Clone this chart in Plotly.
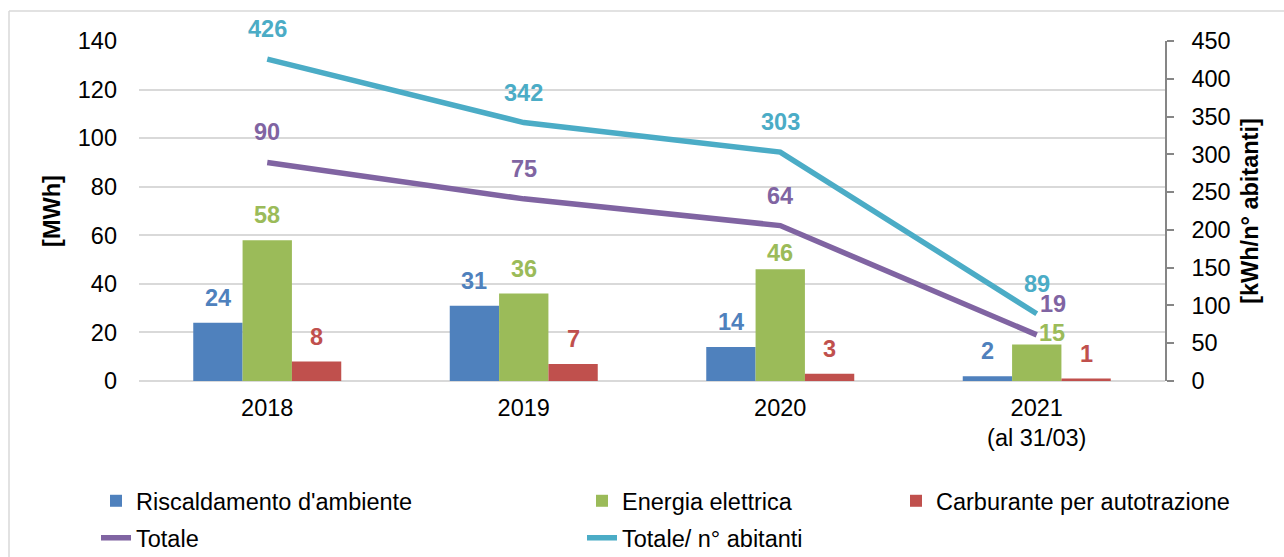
import plotly.graph_objects as go

# ---------------- data ----------------
categories = ["2018", "2019", "2020", "2021<br>(al 31/03)"]
riscaldamento = [24, 31, 14, 2]
energia = [58, 36, 46, 15]
carburante = [8, 7, 3, 1]
totale = [90, 75, 64, 19]
totale_abitanti = [426, 342, 303, 89]

series_names = ["Riscaldamento d'ambiente", "Energia elettrica",
                "Carburante per autotrazione", "Totale", "Totale/ n° abitanti"]

# ---------------- style ----------------
BLUE, GREEN, RED = "#4F81BD", "#9BBB59", "#C0504D"
PURPLE, CYAN = "#8064A2", "#4BACC6"
FONT = "Liberation Sans, Arial, sans-serif"
GRID = "#D9D9D9"
AXIS = "#868686"
FS = 23.5

W, H = 1284, 557
ML, MR, MT, MB = 139, 119, 41, 176
PW = W - ML - MR
PH = H - MT - MB
BARGAP = 0.423
bar_px = PW / len(categories) * (1 - BARGAP) / 3

fig = go.Figure()

bar_series = [(riscaldamento, BLUE, "legend"), (energia, GREEN, "legend2"),
              (carburante, RED, "legend3")]
for i, (vals, col, lg) in enumerate(bar_series):
    fig.add_trace(go.Bar(x=categories, y=vals, name=series_names[i],
                         marker=dict(color=col, line=dict(width=0)),
                         legend=lg, yaxis="y"))

fig.add_trace(go.Scatter(x=categories, y=totale, name=series_names[3], mode="lines",
                         line=dict(color=PURPLE, width=5.5), legend="legend4", yaxis="y"))
fig.add_trace(go.Scatter(x=categories, y=totale_abitanti, name=series_names[4], mode="lines",
                         line=dict(color=CYAN, width=5.5), legend="legend5", yaxis="y2"))

# ---------------- data labels ----------------
# annotation x uses the category index on the category axis
annotations = []
bar_shift_default = (0, 25)
bar_shift_override = {(1, 2): (0, 16), (1, 3): (15, 12)}
for i, (vals, col, _) in enumerate(bar_series):
    for j, v in enumerate(vals):
        dx, dy = bar_shift_override.get((i, j), bar_shift_default)
        annotations.append(dict(
            x=j, y=v, xref="x", yref="y", text=f"<b>{v}</b>", showarrow=False,
            xshift=(i - 1) * bar_px + dx, yshift=dy,
            font=dict(family=FONT, size=FS, color=col)))

line_shift_default = (0, 30)
line_shift_override = {("tot", 3): (16, 31)}
for key, vals, col, yr in [("tot", totale, PURPLE, "y"), ("ab", totale_abitanti, CYAN, "y2")]:
    for j, v in enumerate(vals):
        dx, dy = line_shift_override.get((key, j), line_shift_default)
        annotations.append(dict(
            x=j, y=v, xref="x", yref=yr, text=f"<b>{v}</b>", showarrow=False,
            xshift=dx, yshift=dy,
            font=dict(family=FONT, size=FS, color=col)))

# ---------------- outer frame ----------------
def px_x(px):
    return (px - ML) / PW

def px_y(py):
    return (H - MB - py) / PH

shapes = [
    dict(type="line", xref="paper", yref="paper", x0=px_x(9), x1=px_x(W + 5),
         y0=px_y(11), y1=px_y(11), line=dict(color=GRID, width=1.5)),
    dict(type="line", xref="paper", yref="paper", x0=px_x(9), x1=px_x(9),
         y0=px_y(11), y1=px_y(H + 5), line=dict(color=GRID, width=1.5)),
]

legend_common = dict(font=dict(family=FONT, size=FS, color="#000000"),
                     bgcolor="rgba(0,0,0,0)", xanchor="left", yanchor="middle",
                     orientation="v")
row1, row2 = px_y(501), px_y(538)
col1, col2, col3 = px_x(96), px_x(582), px_x(896)

fig.update_layout(
    width=W, height=H, autosize=False,
    margin=dict(l=ML, r=MR, t=MT, b=MB, pad=0, autoexpand=False),
    paper_bgcolor="white", plot_bgcolor="white",
    font=dict(family=FONT, size=FS, color="#000000"),
    barmode="group", bargap=BARGAP, bargroupgap=0,
    showlegend=True,
    legend=dict(x=col1, y=row1, **legend_common),
    legend2=dict(x=col2, y=row1, **legend_common),
    legend3=dict(x=col3, y=row1, **legend_common),
    legend4=dict(x=col1, y=row2, **legend_common),
    legend5=dict(x=col2, y=row2, **legend_common),
    xaxis=dict(type="category", range=[-0.5, len(categories) - 0.5], autorange=False,
               showgrid=False, showline=False, ticks="",
               zeroline=False, tickfont=dict(size=FS), ticklabelstandoff=10),
    yaxis=dict(range=[0, 140], dtick=20, showgrid=True, gridcolor=GRID, gridwidth=1.5,
               zeroline=True, zerolinecolor=GRID, zerolinewidth=1.5,
               showline=False, ticks="", ticklabelstandoff=21,
               tickfont=dict(size=FS),
               title=dict(text="<b>[MWh]</b>", font=dict(size=FS), standoff=10)),
    yaxis2=dict(range=[0, 450], dtick=50, overlaying="y", side="right",
                showgrid=False, zeroline=False, showline=True, linecolor=AXIS,
                linewidth=1.5, ticks="outside", ticklen=7, tickcolor=AXIS, tickwidth=1.5,
                ticklabelstandoff=13, tickfont=dict(size=FS),
                title=dict(text="<b>[kWh/n° abitanti]</b>", font=dict(size=FS), standoff=12)),
    annotations=annotations,
    shapes=shapes,
)

fig.write_html("out.html", config={"displayModeBar": False},
               post_script="document.body.style.margin='0';")
